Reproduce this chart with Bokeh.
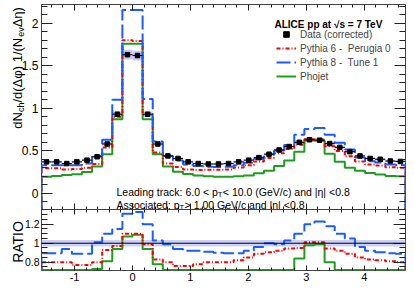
import numpy as np
from bokeh.plotting import figure
from bokeh.layouts import column, row
from bokeh.models import (Range1d, LinearAxis, FixedTicker, Label, Legend, LegendItem,
                          Span, BoxAnnotation, CustomJSTickFormatter)
from bokeh.core.properties import value
from bokeh.embed import file_html
from bokeh.resources import INLINE

# ---------------- data ----------------
n_bins = 36
data = [0.37, 0.37, 0.35, 0.37, 0.39, 0.43, 0.58, 0.93, 1.63, 1.62, 0.93, 0.58,
        0.44, 0.41, 0.37, 0.35, 0.345, 0.345, 0.35, 0.37, 0.39, 0.42, 0.46, 0.51,
        0.55, 0.60, 0.63, 0.625, 0.585, 0.54, 0.49, 0.44, 0.41, 0.40, 0.38, 0.375]
data_stat = [0.012, 0.012, 0.012, 0.012, 0.012, 0.013, 0.015, 0.018, 0.025, 0.025, 0.018, 0.015,
             0.013, 0.012, 0.012, 0.012, 0.012, 0.012, 0.012, 0.012, 0.012, 0.013, 0.013, 0.014,
             0.014, 0.015, 0.015, 0.015, 0.015, 0.014, 0.014, 0.013, 0.012, 0.012, 0.012, 0.012]
data_sys = [0.013, 0.013, 0.012, 0.013, 0.014, 0.015, 0.020, 0.033, 0.057, 0.057, 0.033, 0.020,
            0.015, 0.014, 0.013, 0.012, 0.012, 0.012, 0.012, 0.013, 0.014, 0.015, 0.016, 0.018,
            0.019, 0.021, 0.022, 0.022, 0.020, 0.019, 0.017, 0.015, 0.014, 0.014, 0.013, 0.013]
pythia6 = [0.296, 0.296, 0.28, 0.285, 0.30, 0.344, 0.54, 0.90, 1.80, 1.79, 0.92, 0.48,
           0.35, 0.31, 0.28, 0.273, 0.276, 0.276, 0.28, 0.303, 0.33, 0.374, 0.416, 0.47,
           0.52, 0.57, 0.636, 0.631, 0.553, 0.497, 0.436, 0.374, 0.34, 0.328, 0.308, 0.30]
pythia8 = [0.33, 0.33, 0.33, 0.33, 0.35, 0.44, 0.63, 1.10, 2.155, 2.155, 1.11, 0.61,
           0.44, 0.385, 0.34, 0.322, 0.314, 0.31, 0.313, 0.331, 0.359, 0.403, 0.46, 0.505,
           0.567, 0.69, 0.756, 0.769, 0.69, 0.594, 0.515, 0.422, 0.377, 0.362, 0.34, 0.334]
phojet = [0.195, 0.205, 0.215, 0.225, 0.25, 0.315, 0.46, 0.87, 1.76, 1.76, 0.87, 0.46,
          0.315, 0.255, 0.228, 0.21, 0.20, 0.195, 0.195, 0.20, 0.21, 0.235, 0.265, 0.32,
          0.385, 0.49, 0.62, 0.62, 0.465, 0.37, 0.30, 0.265, 0.24, 0.22, 0.205, 0.20]
ratio_p6 = [0.80, 0.80, 0.80, 0.77, 0.77, 0.80, 0.93, 0.97, 1.10, 1.10, 0.99, 0.83,
            0.80, 0.76, 0.76, 0.78, 0.80, 0.80, 0.80, 0.82, 0.85, 0.89, 0.905, 0.92,
            0.945, 0.95, 1.01, 1.01, 0.945, 0.92, 0.89, 0.85, 0.83, 0.82, 0.81, 0.80]
ratio_p8 = [0.895, 0.895, 0.94, 0.89, 0.89, 1.01, 1.10, 1.15, 1.31, 1.33, 1.20, 1.03,
            0.99, 0.94, 0.92, 0.92, 0.91, 0.90, 0.895, 0.895, 0.92, 0.96, 1.00, 0.99,
            1.03, 1.10, 1.20, 1.23, 1.18, 1.10, 1.05, 0.96, 0.92, 0.905, 0.895, 0.89]
ratio_phojet = [0.53, 0.55, 0.61, 0.61, 0.64, 0.73, 0.81, 0.94, 1.07, 1.09, 0.94, 0.78,
                0.70, 0.62, 0.62, 0.60, 0.58, 0.57, 0.56, 0.54, 0.54, 0.56, 0.58, 0.63,
                0.70, 0.84, 0.98, 0.99, 0.80, 0.68, 0.61, 0.60, 0.59, 0.55, 0.54, 0.53]
ratio_sys = 0.035

x_ticks = [-1, 0, 1, 2, 3, 4]
x_tick_labels = ["-1", "0", "1", "2", "3", "4"]
top_y_ticks = [0, 0.5, 1, 1.5, 2]
top_y_tick_labels = ["0", "0.5", "1", "1.5", "2"]
ratio_y_ticks = [0.8, 1.0, 1.2]
ratio_y_tick_labels = ["0.8", "1", "1.2"]

# ---------------- helpers ----------------
FONT = "Liberation Sans"
C_RED, C_BLUE, C_GREEN = "#ff0000", "#1a5cff", "#1e9e1e"
edges = np.linspace(-np.pi / 2, 3 * np.pi / 2, n_bins + 1)
centers = 0.5 * (edges[:-1] + edges[1:])
XMIN, XMAX = float(edges[0]), float(edges[-1])
TOP_Y = (-0.19, 2.22)
RAT_Y = (0.713, 1.355)
EXTRA = 8      # the top canvas extends this far below its frame (under the ratio panel)
TW = 26        # width of the strip that carries the rotated y titles
OV = 12        # the panels overlap the strip by this much (their borders are transparent)
PX0 = TW - OV  # page x where the panels' canvases start
LB = 41 - PX0  # left border of the panels, so the frames start at page x = 41
PW = 414 - PX0

W = {' ': 278, '(': 333, ')': 333, '.': 278, '/': 278, ':': 278, '<': 584, '=': 584, '>': 584,
     '0': 556, '1': 556, '2': 556, '3': 556, '4': 556, '5': 556, '6': 556, '7': 556, '8': 556, '9': 556,
     'A': 667, 'G': 778, 'L': 556, 'N': 722, 'T': 611, 'V': 667,
     'a': 556, 'c': 500, 'd': 556, 'e': 556, 'g': 556, 'h': 556, 'i': 222, 'k': 500, 'l': 222,
     'n': 556, 'o': 556, 'p': 556, 'r': 333, 's': 500, 't': 278, 'v': 500, '|': 260,
     'Δ': 668, 'φ': 720, 'η': 556}


def tw(s, size):
    return sum(W.get(c, 556) for c in s) * size / 1000.0


def hist_xy(vals, floor, lo=None, hi=None):
    v = np.asarray(vals, dtype=float)
    if lo is not None:
        v = np.clip(v, lo, hi)
    x = np.repeat(edges, 2)
    y = np.concatenate([[floor], np.repeat(v, 2), [floor]])
    return x, y


def fmt(tick_list, label_list):
    return CustomJSTickFormatter(args=dict(tks=list(tick_list), lbls=list(label_list)), code="""
        const i = tks.findIndex(t => Math.abs(t - tick) < 1e-9);
        return i >= 0 ? lbls[i] : '';""")


def add_axis(p, side, tick_list, minor, tick_in, minor_in, labels=None, size="11px", standoff=3):
    ax = LinearAxis(ticker=FixedTicker(ticks=list(tick_list), minor_ticks=[float(m) for m in minor]))
    ax.major_tick_in = tick_in
    ax.major_tick_out = 0
    ax.minor_tick_in = minor_in
    ax.minor_tick_out = 0
    ax.axis_line_color = None
    ax.major_tick_line_color = "#222222"
    ax.minor_tick_line_color = "#222222"
    if labels is not None:
        ax.formatter = fmt(tick_list, labels)
        ax.major_label_text_font = FONT
        ax.major_label_text_font_size = size
        ax.major_label_text_color = "black"
        ax.major_label_standoff = standoff
    else:
        ax.major_label_text_font_size = "0px"
        ax.major_label_text_color = None
        ax.major_label_standoff = 0
    p.add_layout(ax, side)
    return ax


x_minor = np.round(np.arange(-1.4, 4.61, 0.2), 3)
top_minor = np.round(np.arange(-0.1, 2.21, 0.1), 3)
rat_minor = np.round(np.arange(0.75, 1.351, 0.05), 3)

x_range = Range1d(XMIN, XMAX)

# ---------------- strip with the rotated axis titles ----------------
pt = figure(width=TW, height=300, x_range=Range1d(0, TW), y_range=Range1d(300, 0),
            x_axis_location=None, y_axis_location=None, min_border=0,
            toolbar_location=None, output_backend="svg")
pt.xgrid.grid_line_color = None
pt.ygrid.grid_line_color = None
pt.outline_line_color = None
pt.background_fill_color = "white"
pt.border_fill_color = "white"

FS, SS = 13, 9
pieces = [("dN", FS, 0), ("ch", SS, 4), ("/d(Δφ) 1/(N", FS, 0), ("ev", SS, 4), (" Δη)", FS, 0)]
L = sum(tw(t, s) for t, s, _ in pieces)
y_start = 3 + L
cum = 0.0
for t, s, dx in pieces:
    pt.text(x=[16.5 + dx], y=[y_start - cum], text=[t], angle=np.pi / 2,
            text_font=value(FONT), text_font_size=f"{s}px", text_color="black",
            text_baseline="alphabetic", text_align="left")
    cum += tw(t, s)
pt.text(x=[17], y=[241.5], text=["RATIO"], angle=np.pi / 2, text_font=value(FONT),
        text_font_size="14px", text_color="black", text_baseline="alphabetic", text_align="center")

# ---------------- top panel ----------------
p1 = figure(width=PW, height=209 + EXTRA, x_range=x_range, y_range=Range1d(*TOP_Y),
            x_axis_location=None, y_axis_location=None,
            min_border_left=LB, min_border_right=9, min_border_top=4, min_border_bottom=EXTRA,
            toolbar_location=None, output_backend="svg")
p1.xgrid.grid_line_color = None
p1.ygrid.grid_line_color = None
p1.outline_line_color = "#444444"
p1.outline_line_width = 1
p1.background_fill_color = "white"
p1.border_fill_alpha = 0

add_axis(p1, "left", top_y_ticks, top_minor, 11, 6, top_y_tick_labels, "12px", 3)
add_axis(p1, "right", top_y_ticks, top_minor, 11, 6)
add_axis(p1, "below", x_ticks, x_minor, 6, 3)
add_axis(p1, "above", x_ticks, x_minor, 6, 3)

d = np.array(data)
p1.quad(left=edges[:-1], right=edges[1:], bottom=d - np.array(data_sys), top=d + np.array(data_sys),
        fill_color="#c8c8f5", line_color=None)
gx, gy = hist_xy(phojet, TOP_Y[0])
r_pho = p1.line(gx, gy, line_color=C_GREEN, line_width=2)
rx, ry = hist_xy(pythia6, TOP_Y[0])
r_p6 = p1.line(rx, ry, line_color=C_RED, line_width=2, line_dash="4 2 1 2")
bx, by = hist_xy(pythia8, TOP_Y[0])
r_p8 = p1.line(bx, by, line_color=C_BLUE, line_width=2, line_dash="14 4")
p1.segment(x0=edges[:-1], y0=d, x1=edges[1:], y1=d, line_color="black", line_width=1)
p1.segment(x0=centers, y0=d - np.array(data_stat), x1=centers, y1=d + np.array(data_stat),
           line_color="black", line_width=1)
r_data = p1.scatter(centers, d, marker="square", size=4.5, color="black")

legend = Legend(items=[LegendItem(label="Data (corrected)", renderers=[r_data]),
                       LegendItem(label="Pythia 6 -  Perugia 0", renderers=[r_p6]),
                       LegendItem(label="Pythia 8 -  Tune 1", renderers=[r_p8]),
                       LegendItem(label="Phojet", renderers=[r_pho])],
                location=(235, 126), padding=0, margin=0, spacing=0, label_standoff=4,
                glyph_width=20, glyph_height=14, label_height=14,
                border_line_color=None, background_fill_alpha=0,
                label_text_font=FONT, label_text_font_size="10px")
p1.add_layout(legend)


def lab1(text, px, py, size, **kw):
    # px, py: page pixels; anchored at the top-left corner of the top frame (page 41,4)
    p1.add_layout(Label(x=XMIN, y=TOP_Y[1], x_offset=px - 41, y_offset=4 - py, text=text,
                        text_font=FONT, text_font_size=f"{size}px", text_color="black",
                        text_baseline="alphabetic", **kw))


lab1("ALICE pp at √s = 7 TeV", 274, 23.5, 10, text_font_style="bold")

TS, TSS = 10.5, 7.5
for pre, post, base in [("Leading track: 6.0 < p", " < 10.0 (GeV/c) and |η| <0.8", 191),
                        ("Associated: p", " > 1.00 GeV/c and |η| <0.8", 204.5)]:
    x0 = 116
    lab1(pre, x0, base, TS)
    x1 = x0 + tw(pre, TS)
    lab1("T", x1, base + 2.5, TSS)
    x2 = x1 + tw("T", TSS) + 0.5
    lab1(post, x2, base, TS)

# ---------------- ratio panel ----------------
p2 = figure(width=PW, height=91, x_range=x_range, y_range=Range1d(*RAT_Y),
            x_axis_location=None, y_axis_location=None,
            min_border_left=LB, min_border_right=9, min_border_top=0, min_border_bottom=30,
            toolbar_location=None, output_backend="svg", margin=(-EXTRA, 0, 0, 0))
p2.xgrid.grid_line_color = None
p2.ygrid.grid_line_color = None
p2.outline_line_color = "#444444"
p2.outline_line_width = 1
p2.background_fill_alpha = 0
p2.border_fill_alpha = 0

add_axis(p2, "left", ratio_y_ticks, rat_minor, 12, 6, ratio_y_tick_labels, "10.5px", 2)
add_axis(p2, "right", ratio_y_ticks, rat_minor, 12, 6)
add_axis(p2, "below", x_ticks, x_minor, 5, 3, x_tick_labels, "11px", 2)
add_axis(p2, "above", x_ticks, x_minor, 5, 3)

p2.add_layout(BoxAnnotation(bottom=1 - ratio_sys, top=1 + ratio_sys, fill_color="#c8ccf8",
                            fill_alpha=0.9, line_color=None, level="underlay"))
p2.add_layout(Span(location=1.0, dimension="width", line_color="black", line_width=1))
gx, gy = hist_xy(ratio_phojet, RAT_Y[0], RAT_Y[0] + 0.004, RAT_Y[1])
p2.line(gx, gy, line_color=C_GREEN, line_width=2)
rx, ry = hist_xy(ratio_p6, RAT_Y[0], RAT_Y[0], RAT_Y[1])
p2.line(rx, ry, line_color=C_RED, line_width=2, line_dash="4 2 1 2")
bx, by = hist_xy(ratio_p8, RAT_Y[0], RAT_Y[0], RAT_Y[1])
p2.line(bx, by, line_color=C_BLUE, line_width=2, line_dash="14 4")

p2.add_layout(Label(x=XMAX, y=RAT_Y[0], x_offset=2, y_offset=270 - 293,
                    text="Δφ w.r.t. leading track (rad)", text_font=FONT, text_font_size="14px",
                    text_color="black", text_baseline="alphabetic", text_align="right"))

layout = row(pt, column(p1, p2, spacing=0, margin=(0, 0, 0, -OV)), spacing=0)
open("out.html", "w").write(file_html(layout, INLINE))
